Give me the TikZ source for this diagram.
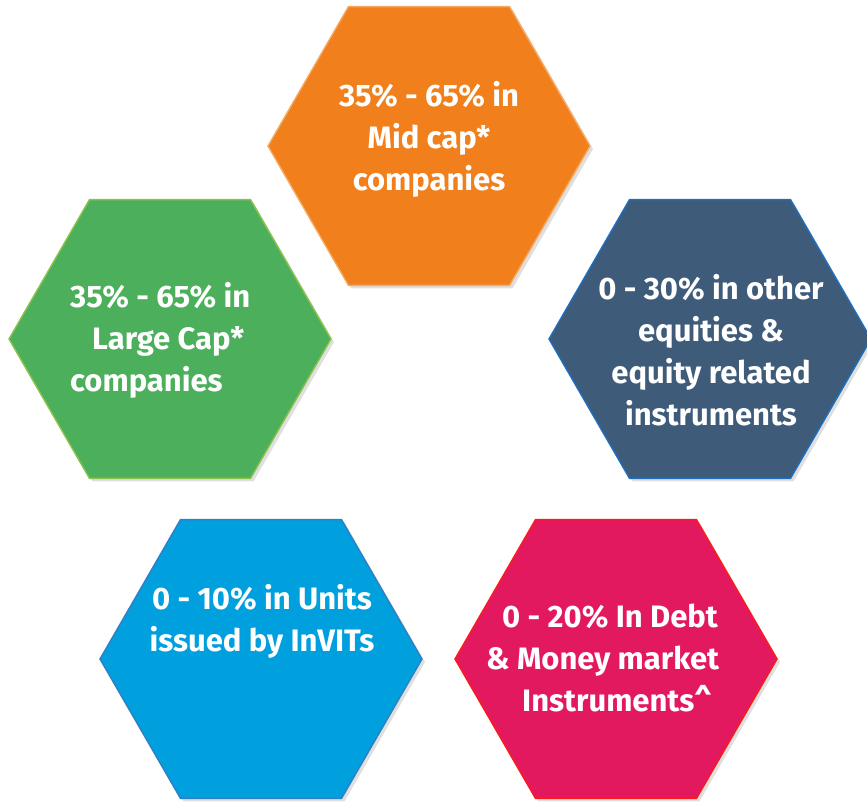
\documentclass[tikz,border=0pt]{standalone}
\usepackage{fontspec}
\setmainfont{Fira Sans}
\usetikzlibrary{shapes.geometric,shadows}

\definecolor{midfill}{HTML}{F07F1C}
\definecolor{midline}{HTML}{F5A860}
\definecolor{largefill}{HTML}{4CAF5C}
\definecolor{largeline}{HTML}{8BC34A}
\definecolor{otherfill}{HTML}{3E5B7A}
\definecolor{otherline}{HTML}{1F6FC0}
\definecolor{unitfill}{HTML}{00A0DF}
\definecolor{unitline}{HTML}{2E7FC4}
\definecolor{debtfill}{HTML}{E2195F}
\definecolor{debtline}{HTML}{FF1A1A}

\tikzset{
  hexa/.style={regular polygon, regular polygon sides=6, minimum size=322pt,
    inner sep=0pt, line width=1.4pt,
    drop shadow={shadow xshift=3pt, shadow yshift=-3pt, opacity=0.25}},
  hexatext/.style={text=white, font=\bfseries\fontsize{31}{42}\selectfont, inner sep=0pt}
}

\begin{document}
\begin{tikzpicture}[x=1pt, y=-1pt]
  \useasboundingbox (0,0) rectangle (867,802);

  % the five hexagons
  \node[hexa, fill=midfill, draw=midline] (mid) at (429,146) {};
  \node[hexa, fill=largefill, draw=largeline] (large) at (170,339) {};
  \node[hexa, fill=otherfill, draw=otherline] (other) at (710,339) {};
  \node[hexa, fill=unitfill, draw=unitline] (units) at (261,659) {};
  \node[hexa, fill=debtfill, draw=debtline] (debt) at (616,659) {};

  % their texts
  \node[hexatext, align=center] (midtext) at (429,139) {35\% - 65\% in\\Mid cap*\\companies};
  \node[hexatext, align=left, anchor=west] (largetext) at (70,340) {35\% - 65\% in\\\hspace*{22pt}Large Cap*\\companies};
  \node[hexatext, align=center] (othertext) at (711,350) {0 - 30\% in other\\equities \&\\equity related\\instruments};
  \node[hexatext, align=center] (unitstext) at (262,621) {0 - 10\% in Units\\issued by InVITs};
  \node[hexatext, align=left, anchor=west] (debttext) at (486,658) {\hspace*{16pt}0 - 20\% In Debt\\\& Money market\\\hspace*{36pt}Instruments\^{}};
\end{tikzpicture}
\end{document}
